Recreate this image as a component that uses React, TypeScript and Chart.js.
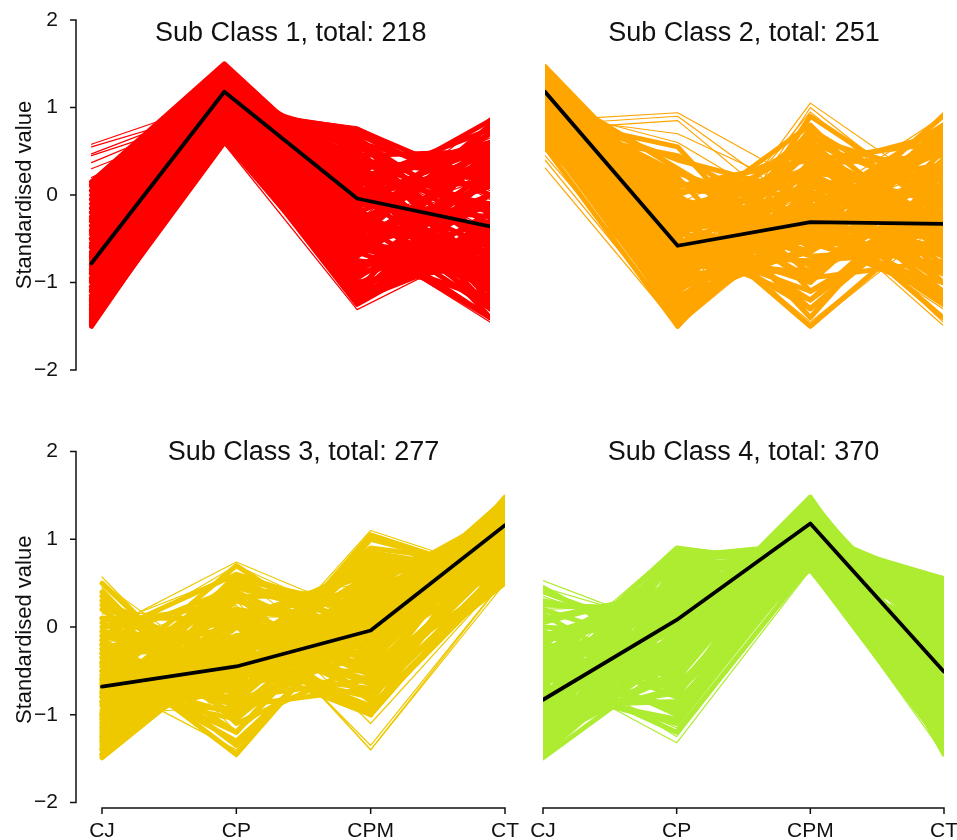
import { useEffect, useRef } from "react";
import { Chart, registerables } from "chart.js";

Chart.register(...registerables);

// ---------- data ----------
const categories = ["CJ", "CP", "CPM", "CT"];
const yTickValues = [-2, -1, 0, 1, 2];
const yTickLabels = ["\u22122", "\u22121", "0", "1", "2"];
const yAxisTitle = "Standardised value";

const class1Title = "Sub Class 1, total: 218";
const class1Mean = [-0.78, 1.18, -0.04, -0.36];
const class1Core = [
  [0.15, 1.5, 0.1, 0.6], [0.1, 1.45, 0.0, 0.85], [0.05, 1.42, -0.2, 0.4], [0.0, 1.4, 0.2, -0.1],
  [-0.05, 1.3, 0.4, 0.2], [-0.1, 1.35, -0.4, 0.7], [-0.2, 1.32, 0.1, -0.6], [-0.25, 1.15, 0.55, -0.2],
  [-0.3, 1.28, -0.1, 0.3], [-0.35, 1.25, -0.6, -1.0], [-0.4, 1.02, 0.7, 0.0], [-0.45, 1.2, 0.05, -0.8],
  [-0.5, 1.2, -0.3, 0.5], [-0.55, 1.18, 0.4, -1.2], [-0.6, 1.15, -0.8, -0.3], [-0.65, 0.98, 0.75, 0.1],
  [-0.7, 1.1, -0.5, 0.8], [-0.75, 1.08, 0.25, -1.4], [-0.8, 1.05, -1.0, -0.7], [-0.85, 1.02, 0.6, -0.5],
  [-0.9, 1.0, -0.2, -1.1], [-0.95, 0.98, 0.7, 0.0], [-1.0, 0.95, -0.7, 0.6], [-1.05, 0.92, 0.1, -0.9],
  [-1.1, 0.9, -1.1, -0.2], [-1.15, 0.88, 0.35, -1.3], [-1.2, 0.85, -0.45, 0.1], [-1.25, 0.82, -0.5, -1.4],
  [-1.3, 0.8, 0.5, -0.6], [-1.35, 0.78, -0.6, 0.4], [-1.4, 0.75, -1.2, -0.6], [-1.45, 0.72, -0.25, -1.0],
  [-1.5, 0.7, -1.25, -0.4], [-1.48, 0.68, -0.4, -1.4], [-0.5, 1.48, -0.05, -0.4], [-1.1, 1.4, 0.15, 0.75],
  [0.12, 1.38, -0.3, -0.7], [-0.15, 1.22, 0.3, 0.45], [-0.28, 1.05, -0.85, 0.2], [-0.42, 1.35, -0.15, -1.25],
  [-0.58, 0.92, 0.45, 0.5], [-0.68, 1.28, -1.05, -0.45], [-0.78, 1.12, 0.0, 0.35], [-0.88, 0.86, -0.75, -1.15],
  [-0.98, 1.18, 0.5, -0.9], [-1.08, 0.8, -0.35, 0.55], [-1.18, 0.95, -0.95, 0.0], [-1.28, 0.74, 0.2, -1.0],
  [-1.38, 0.88, -0.1, -0.25], [-1.44, 0.76, -0.7, 0.25], [-1.22, 1.1, 0.6, 0.2], [-0.95, 1.3, -0.55, 0.45],
  [-0.6, 1.4, -0.2, -0.9], [-0.2, 1.1, 0.65, -0.35], [0.05, 1.28, 0.3, -0.85], [-0.35, 0.98, -1.2, -0.5],
  [-0.72, 0.9, -0.15, 0.7], [-1.05, 1.05, 0.3, -0.2], [-1.32, 0.72, -0.9, -0.55], [-0.5, 1.36, 0.05, 0.15],
  [-0.15, 1.45, -0.6, -0.1], [-0.82, 1.22, -0.4, -0.1], [-1.48, 0.66, -0.05, 0.55], [-0.4, 1.15, 0.2, 0.6],
  [-1.42, 0.62, -1.15, -0.35], [-1.25, 0.7, -1.0, -0.8], [-1.1, 0.78, -0.85, -0.1], [-0.95, 0.84, -0.65, -1.2],
  [-0.8, 0.9, -1.2, -0.3], [-0.65, 0.95, -0.55, -0.75], [-0.5, 1.0, -0.9, 0.3], [-1.35, 0.66, -0.75, -0.9],
  [-1.15, 0.74, -0.3, -1.3], [-0.9, 0.82, -1.1, 0.55], [-1.46, 0.6, -0.6, 0.0], [-0.7, 1.06, -0.25, -0.65],
  [-0.3, 1.2, -0.65, 0.15], [-1.2, 0.92, 0.0, -1.0], [-0.85, 0.76, -0.5, -1.05], [-1.05, 0.7, -1.15, 0.2],
  [-0.25, 1.35, 0.25, -1.1], [-0.05, 1.25, -0.8, -0.5], [-1.3, 0.86, 0.4, -0.15], [-0.6, 1.08, 0.65, -0.95],
];
const class1Fringe = [
  [0.58, 1.1, 0.2, -0.3], [0.55, 1.0, -0.1, 0.5], [0.47, 1.05, 0.4, -0.4], [0.45, 0.95, 0.6, -0.8],
  [0.37, 1.0, -0.3, 0.2], [0.3, 0.9, 0.05, 0.65], [0.2, 0.95, -0.6, -0.5], [-1.45, 0.58, -1.31, -0.55],
  [-1.3, 0.62, -1.2, -0.3], [-1.2, 0.65, -1.1, -0.7], [-0.9, 0.7, -0.95, -0.1], [-0.2, 0.98, 0.78, 0.05],
  [-0.6, 1.0, 0.76, -0.05], [-0.4, 1.1, -0.3, 0.88], [-0.7, 1.2, 0.0, 0.86], [0.0, 1.25, -0.5, -1.45],
  [-1.0, 0.85, -0.45, -1.42], [-0.3, 1.15, -1.0, -0.2],
];

const class2Title = "Sub Class 2, total: 251";
const class2Mean = [1.18, -0.58, -0.31, -0.33];
const class2Core = [
  [1.47, -0.1, -0.5, 0.2], [1.42, -0.3, 0.2, -0.6], [1.4, -0.6, -0.2, 0.5], [1.38, -0.9, 0.5, -0.3],
  [1.35, -0.2, -0.8, 0.0], [1.32, -1.2, 0.0, -1.0], [1.3, 0.0, -1.0, 0.4], [1.28, -0.5, 0.7, -0.5],
  [1.25, -1.4, -0.3, 0.7], [1.22, 0.3, -0.6, -0.2], [1.2, -0.8, -0.9, 0.1], [1.18, -0.4, 0.3, -1.2],
  [1.15, -1.0, -0.5, -0.8], [1.12, 0.1, 0.4, 0.6], [1.1, -1.5, 0.1, -0.4], [1.08, -0.7, -0.9, -0.1],
  [1.05, 0.2, -1.4, 0.3], [1.02, -1.1, 0.6, 0.0], [1.0, -0.6, -0.4, 0.9], [0.98, 0.4, 0.0, -0.9],
  [0.95, -1.3, -0.4, 0.2], [0.92, -0.3, 0.8, -0.7], [0.9, -0.9, -0.1, -1.4], [0.88, 0.55, -1.1, -0.3],
  [0.85, -1.45, -0.2, 0.55], [0.82, -0.2, -1.5, -0.2], [0.8, 0.0, 0.5, -1.0], [0.75, -1.2, -0.6, 0.8],
  [0.72, -0.2, 0.25, -0.5], [0.7, -0.8, -0.3, -1.2], [0.65, -1.4, 0.9, -0.1], [0.6, 0.3, -0.9, 0.4],
  [0.58, 0.0, -1.3, 0.0], [0.55, -1.5, 0.4, -0.8], [1.45, -0.75, -0.4, -0.45], [1.0, -0.4, -0.2, -0.3],
  [1.44, -0.45, 0.1, 0.35], [1.36, -1.05, -0.65, 0.25], [1.3, -0.25, 0.55, -0.9], [1.24, -0.85, -0.15, -0.7],
  [1.16, -1.25, 0.35, 0.45], [1.1, -0.15, -0.7, -0.6], [1.04, -0.55, 0.05, -1.1], [0.98, 0.15, -0.3, 0.65],
  [0.93, -1.35, -0.05, -0.2], [0.87, -0.6, -1.2, 0.15], [0.78, 0.1, 0.2, -0.5], [0.68, -1.0, 0.3, 0.7],
  [0.62, -0.35, -0.8, -0.4], [0.57, -0.9, 0.0, 0.3], [1.4, -0.05, -0.35, -0.85], [1.2, -1.1, 0.75, -0.15],
  [1.06, -0.25, -1.2, -0.1], [0.96, -0.75, 0.15, -0.55], [0.83, -1.2, -0.45, 0.0], [0.74, 0.45, -0.4, 0.25],
  [1.32, -0.65, -0.95, 0.5], [1.12, -0.35, 0.45, -0.35], [0.9, -1.48, 0.25, 0.1], [0.66, -0.45, -0.55, -1.0],
  [1.28, 0.05, 0.0, -0.25], [1.02, -0.95, -0.2, 0.35], [0.8, -0.15, -0.65, 0.75], [1.38, -1.3, -0.3, -0.6],
  [1.26, -1.15, -0.6, -0.3], [1.14, -0.9, -0.85, 0.05], [1.0, -0.55, -1.1, -0.2], [0.86, -1.25, -0.35, -0.9],
  [0.72, -0.7, -0.75, -0.65], [1.34, -0.4, -1.3, -0.05], [1.18, -1.45, 0.05, -1.0], [0.94, -0.1, -0.95, -0.75],
  [0.6, -1.1, -0.2, -1.15], [1.42, -0.85, -0.5, -1.15], [0.8, -0.35, 0.0, 0.55], [1.08, -1.35, -0.4, 0.6],
  [0.9, -0.65, 0.35, -0.45], [1.22, -0.2, -0.15, 0.8], [0.65, -0.95, -0.65, 0.6], [1.3, -0.75, 0.65, 0.2],
  [1.02, 0.25, -0.25, -1.25], [0.76, -1.4, 0.6, -0.6], [1.12, -0.5, -1.0, 0.35], [1.46, -0.15, 0.3, -0.1],
];
const class2Fringe = [
  [0.31, -1.5, -0.25, 0.3], [0.4, -1.45, 0.0, -0.5], [0.45, -1.3, 1.0, -0.2], [0.85, 0.94, 0.1, -0.6],
  [0.8, 0.9, -0.2, 0.2], [0.75, 0.85, -0.4, -1.0], [0.9, 0.7, 0.0, 0.5], [1.0, 0.6, -0.3, -1.3],
  [1.2, -1.0, 1.05, 0.0], [1.1, -0.9, 0.95, -0.3], [1.3, 0.0, -1.51, -0.3], [0.7, -0.2, -1.45, -0.25],
  [1.05, -0.7, -0.6, 0.94], [0.95, -1.2, -0.1, 0.9], [1.25, -0.4, -0.15, -1.49], [0.6, -0.6, 0.0, -1.45],
  [1.15, -1.5, -0.2, -0.6], [0.5, -0.1, 0.6, 0.1],
];

const class3Title = "Sub Class 3, total: 277";
const class3Mean = [-0.68, -0.45, -0.04, 1.16];
const class3Core = [
  [0.2, -0.9, 0.1, 1.45], [0.1, -0.3, -0.6, 1.3], [0.0, 0.3, -0.2, 1.0], [-0.1, 0.6, 0.1, 0.8],
  [-0.2, -1.2, 0.5, 1.2], [-0.3, 0.0, -1.0, 1.4], [-0.4, -0.6, 0.8, 0.6], [-0.5, 0.4, -0.4, 1.1],
  [-0.55, -1.0, -0.1, 0.9], [-0.6, -0.2, 0.3, 1.35], [-0.65, 0.2, -0.8, 0.7], [-0.7, -0.8, 1.0, 0.6],
  [-0.75, -0.4, -0.3, 1.48], [-0.8, 0.5, 0.0, 1.2], [-0.45, -1.3, 0.1, 1.0], [-0.9, 0.1, 0.6, 0.75],
  [-0.95, -0.4, -1.0, 1.3], [-1.0, -0.1, 0.2, 1.4], [-1.05, -0.5, -0.7, 0.8], [-1.1, 0.3, -0.1, 1.15],
  [-1.15, -0.6, 0.4, 1.05], [-1.2, -0.3, -0.9, 0.6], [-1.25, 0.0, 0.7, 0.65], [-1.3, -0.4, -0.2, 1.3],
  [-1.4, 0.2, 0.0, 0.95], [-1.45, -0.25, -0.6, 1.25], [-1.49, -0.25, 0.3, 1.1],
  [0.4, -1.1, -0.4, 1.2], [0.5, -0.95, 0.0, 0.7], [-0.3, -1.45, 0.3, 1.0], [-0.2, -1.35, 0.2, 1.35],
  [-0.6, 0.7, -0.3, 0.9], [-0.4, -0.9, -0.7, 0.5], [-0.8, -0.7, 1.05, 0.55], [-0.1, -0.5, -0.5, 1.1],
  [0.05, -0.7, -0.25, 1.15], [-0.15, 0.45, 0.25, 0.95], [-0.25, -0.85, 0.45, 1.3], [-0.35, 0.1, -0.55, 0.8],
  [-0.5, -0.35, 0.6, 1.0], [-0.62, 0.55, -0.15, 1.25], [-0.72, -1.05, 0.2, 0.85], [-0.85, -0.15, -0.45, 1.45],
  [-0.98, 0.35, 0.35, 0.7], [-1.08, -0.65, -0.35, 1.2], [-1.18, -0.4, 0.9, 0.7], [-1.28, -0.1, -0.75, 0.95],
  [-1.38, 0.4, -0.3, 1.35], [-1.46, -0.2, 0.05, 0.85], [0.3, -0.45, 0.1, 1.4], [-0.05, -0.2, -0.95, 0.6],
  [-0.42, 0.3, 0.0, 1.05], [-0.58, -0.55, 0.5, 0.75], [-0.78, 0.05, -0.65, 1.3], [-0.5, -1.2, 0.4, 1.15],
  [-1.12, -0.55, 0.15, 0.6], [-1.22, 0.55, 0.2, 1.0], [-0.3, -0.25, -1.0, 0.75], [-0.68, 0.0, 0.65, 1.05],
  [-1.02, 0.15, -0.5, 0.55], [0.25, -0.6, 0.05, 0.9], [-0.88, -0.3, 0.1, 1.38], [-1.32, -0.45, 0.45, 0.8],
  [-0.05, -0.45, -0.8, 0.65], [-0.25, 0.2, -0.4, 1.15], [-0.45, -0.75, 0.3, 0.9], [-0.65, -0.25, 0.75, 0.65],
  [-0.85, 0.35, -0.85, 1.2], [-1.05, -0.7, 0.1, 1.45], [-1.25, -0.15, -0.3, 0.75], [-1.45, -0.3, 0.55, 1.0],
  [0.35, -0.8, -0.6, 1.25], [-0.15, -1.0, 0.0, 1.1], [-0.75, 0.45, 0.05, 0.6], [-0.8, -0.95, 0.35, 1.3],
  [-1.15, 0.0, -0.45, 1.45], [-1.35, -0.4, 0.2, 0.6], [-0.55, -0.1, -0.65, 0.95], [0.1, 0.1, 0.45, 0.85],
  [-0.35, -0.6, -0.1, 1.4], [-1.0, 0.6, 0.1, 0.8], [-0.2, -0.35, 0.85, 0.6], [-1.4, -0.1, -0.15, 1.2],
];
const class3Fringe = [
  [0.57, -1.0, -0.2, 1.2], [0.5, -0.6, 0.3, 0.9], [0.45, -1.2, 0.0, 1.0], [0.15, 0.17, 0.3, 1.3],
  [-0.05, 0.74, 0.1, 1.4], [-0.2, 0.7, 0.0, 0.85], [-0.3, -1.48, 0.3, 0.8], [-1.49, -0.28, 0.1, 0.6],
  [-0.55, -0.6, 1.1, 0.6], [-0.2, 0.3, -1.4, 0.5], [-0.7, 0.2, -1.35, 0.55], [0.0, 0.6, -0.6, 1.48],
  [-1.0, -0.9, 0.9, 0.65], [-0.9, 0.4, -1.1, 0.58], [-1.4, 0.1, 0.15, 1.45], [-0.6, -1.4, 0.3, 1.4],
  [0.3, -0.8, 0.4, 0.7], [-0.5, 0.3, 0.5, 0.8], [-1.35, 0.25, -1.4, 0.55],
];

const class4Title = "Sub Class 4, total: 370";
const class4Mean = [-0.83, 0.08, 1.18, -0.51];
const class4Core = [
  [0.0, -0.1, 1.45, -0.4], [-0.1, 0.4, 0.8, 0.5], [-0.2, -0.4, 1.3, -1.2], [-0.3, 0.7, 0.75, 0.2],
  [-0.4, 0.1, 1.1, -0.8], [-0.45, -0.7, 0.9, 0.4], [-0.5, 0.9, 0.7, -0.3], [-0.55, 0.3, 1.0, -1.4],
  [-0.6, -0.2, 1.4, -0.2], [-0.65, 0.6, 0.85, -0.6], [-0.7, -0.5, 1.2, 0.2], [-0.75, 0.2, 0.65, -1.0],
  [-0.8, 0.8, 0.95, 0.55], [-0.85, -0.3, 1.25, -0.9], [-0.9, 0.5, 1.05, 0.0], [-0.95, 0.0, 0.7, -0.2],
  [-1.0, -0.6, 1.35, -0.6], [-1.05, 0.35, 0.9, 0.35], [-1.1, -0.1, 1.15, -1.3], [-1.15, 0.65, 0.8, -0.5],
  [-1.2, -0.35, 1.0, 0.1], [-1.25, -0.05, 1.48, -0.7], [-1.3, -0.25, 0.75, -1.1], [-1.35, 0.45, 1.1, 0.45],
  [-1.4, -0.2, 0.85, -0.35], [-1.45, -0.05, 1.3, -1.45], [-1.49, -0.38, 1.2, -0.5], [0.3, 0.0, 1.05, -0.1],
  [0.2, -0.3, 0.95, -0.7], [0.45, -0.4, 1.15, 0.1], [-0.3, -1.0, 0.9, -1.0], [-0.5, -1.2, 0.7, 0.3],
  [-0.2, -0.8, 1.4, -0.9], [-0.1, 0.2, 0.65, -1.2], [-0.7, 0.85, 0.72, -0.1], [-0.4, -0.5, 1.0, 0.55],
  [0.1, 0.4, 0.7, -0.5], [-0.05, -0.6, 1.2, 0.15], [-0.15, 0.15, 0.95, -1.1], [-0.25, -0.2, 0.78, 0.4],
  [-0.35, 0.55, 1.05, -0.45], [-0.48, 0.05, 1.25, -0.15], [-0.58, -0.9, 0.85, -0.75], [-0.68, 0.75, 0.68, 0.1],
  [-0.78, -0.15, 1.1, -1.05], [-0.88, 0.3, 0.75, 0.3], [-0.98, -0.45, 1.4, -0.3], [-1.08, 0.6, 0.95, -0.85],
  [-1.0, -0.75, 0.8, 0.0], [-1.28, 0.25, 1.2, -1.15], [-1.38, -0.3, 0.7, 0.5], [-1.46, 0.1, 1.05, -0.8],
  [0.4, -0.15, 0.88, 0.25], [-0.15, 0.35, 1.1, 0.35], [-0.62, -0.4, 0.66, -1.35], [-0.92, 0.75, 0.9, -0.05],
  [-1.22, -0.55, 1.32, -0.25], [-0.45, 0.4, 0.72, -0.95], [-0.75, -1.05, 0.78, -0.4], [-1.35, 0.7, 0.82, 0.15],
  [0.25, 0.2, 1.22, -0.6], [-0.3, -0.25, 0.92, 0.5], [-1.12, 0.1, 1.38, -0.95], [-0.55, 0.45, 1.15, 0.2],
  [-1.3, -0.5, 0.9, -0.6], [-1.1, -0.7, 1.05, 0.3], [-0.9, -0.85, 0.7, -1.25], [-0.7, -1.1, 0.8, 0.05],
  [-0.5, -0.95, 1.2, -0.5], [-0.3, -0.65, 0.66, -0.15], [-0.1, -0.45, 1.0, -1.35], [0.15, -0.75, 0.75, 0.45],
  [-1.45, -0.15, 0.95, 0.0], [-1.2, 0.05, 0.7, -0.3], [-0.95, 0.2, 1.3, -0.75], [-0.6, 0.55, 0.95, 0.4],
  [-0.2, 0.65, 0.8, -0.65], [0.05, 0.45, 0.9, -0.3], [-0.8, -0.25, 1.1, -1.2], [-1.4, 0.3, 0.68, 0.3],
  [-0.35, 0.25, 0.7, -0.85], [-1.0, 0.8, 0.85, -0.9], [-0.55, -0.05, 1.28, 0.05], [-1.25, 0.5, 1.0, 0.25],
];
const class4Fringe = [
  [0.53, -0.05, 1.0, 0.0], [0.45, 0.0, 0.8, -0.8], [0.35, -0.2, 1.2, 0.3], [-0.4, 0.91, 0.75, -0.2],
  [-0.6, 0.88, 0.8, 0.2], [-0.5, -1.32, 0.65, -0.5], [-0.3, -1.25, 0.7, 0.1], [-0.45, -1.15, 0.8, -0.3],
  [-1.49, -0.35, 0.63, -1.4], [-0.2, -0.1, 1.48, -0.35], [-1.0, 0.4, 1.0, 0.57], [-0.8, 0.2, 0.9, 0.5],
  [0.1, 0.3, 0.68, -1.45], [-1.2, 0.6, 0.66, -1.3], [-0.7, -0.9, 1.3, -0.4], [0.2, 0.25, 0.85, 0.4],
];

// ---------- layout / style ----------
type Panel = {
  left: number; top: number; width: number; height: number;
  cjX: number; ctX: number; y2: number; yM2: number;
  axisX?: number; xAxisY?: number; titleBaseline: number;
  color: string; title: string; mean: number[]; core: number[][]; fringe: number[][];
};

const FONT = "'Liberation Sans', Arial, Helvetica, sans-serif";
const INK = "#111111";
const CORE_WIDTH = 5;
const FRINGE_WIDTH = 1.2;

const panels: Panel[] = [
  { left: 0, top: 0, width: 500, height: 400, cjX: 91.5, ctX: 490, y2: 20, yM2: 370, axisX: 76,
    titleBaseline: 41, color: "#ff0000", title: class1Title, mean: class1Mean, core: class1Core, fringe: class1Fringe },
  { left: 520, top: 0, width: 437, height: 400, cjX: 545, ctX: 943, y2: 20, yM2: 370,
    titleBaseline: 41, color: "#ffa500", title: class2Title, mean: class2Mean, core: class2Core, fringe: class2Fringe },
  { left: 0, top: 420, width: 530, height: 420, cjX: 102, ctX: 505, y2: 451.5, yM2: 802.5, axisX: 76, xAxisY: 808,
    titleBaseline: 460, color: "#eec900", title: class3Title, mean: class3Mean, core: class3Core, fringe: class3Fringe },
  { left: 500, top: 420, width: 457, height: 420, cjX: 543, ctX: 944, y2: 451.5, yM2: 802.5, xAxisY: 808,
    titleBaseline: 460, color: "#adec30", title: class4Title, mean: class4Mean, core: class4Core, fringe: class4Fringe },
];

function makeAxesPlugin(p: Panel) {
  return {
    id: "rStyleAxes",
    afterDraw(chart: any) {
      const { ctx, chartArea } = chart;
      const xs = chart.scales.x;
      const ys = chart.scales.y;
      ctx.save();
      ctx.strokeStyle = INK;
      ctx.lineWidth = 1.5;
      ctx.lineCap = "butt";
      if (p.axisX != null) {
        const x = chartArea.left;
        ctx.beginPath();
        ctx.moveTo(x, ys.getPixelForValue(yTickValues[0]));
        ctx.lineTo(x, ys.getPixelForValue(yTickValues[yTickValues.length - 1]));
        yTickValues.forEach((v) => {
          const py = ys.getPixelForValue(v);
          ctx.moveTo(x + 0.75, py);
          ctx.lineTo(x - 6, py);
        });
        ctx.stroke();
      }
      if (p.xAxisY != null) {
        const y = chartArea.bottom;
        ctx.beginPath();
        ctx.moveTo(xs.getPixelForValue(0), y);
        ctx.lineTo(xs.getPixelForValue(categories.length - 1), y);
        categories.forEach((_, i) => {
          const px = xs.getPixelForValue(i);
          ctx.moveTo(px, y - 0.75);
          ctx.lineTo(px, y + 6);
        });
        ctx.stroke();
      }
      ctx.fillStyle = INK;
      ctx.font = `27px ${FONT}`;
      ctx.textAlign = "center";
      ctx.textBaseline = "alphabetic";
      const cx = (xs.getPixelForValue(0) + xs.getPixelForValue(categories.length - 1)) / 2;
      ctx.fillText(p.title, cx, p.titleBaseline - p.top);
      ctx.restore();
    },
  };
}

function buildConfig(p: Panel): any {
  const spacing = (p.ctX - p.cjX) / (categories.length - 1);
  const plotLeft = p.axisX ?? p.cjX;
  const xMin = -(p.cjX - plotLeft) / spacing;
  const unit = (p.yM2 - p.y2) / 4;
  const bottomPx = p.xAxisY ?? p.yM2;
  const yMin = -2 - (bottomPx - p.yM2) / unit;
  const toPts = (vals: number[]) => vals.map((y, i) => ({ x: i, y }));
  const common = { pointRadius: 0, borderJoinStyle: "round", borderCapStyle: "round", tension: 0, fill: false };
  const datasets = [
    { ...common, data: toPts(p.mean), borderColor: "#000000", borderWidth: 3.8 },
    ...p.core.map((v) => ({ ...common, data: toPts(v), borderColor: p.color, borderWidth: CORE_WIDTH })),
    ...p.fringe.map((v) => ({ ...common, data: toPts(v), borderColor: p.color, borderWidth: FRINGE_WIDTH })),
  ];
  const showX = p.xAxisY != null;
  const showY = p.axisX != null;
  return {
    type: "line",
    data: { datasets },
    plugins: [makeAxesPlugin(p)],
    options: {
      responsive: false,
      animation: false,
      events: [],
      layout: {
        padding: {
          left: showY ? 0 : p.cjX - p.left,
          right: p.left + p.width - p.ctX,
          top: p.y2 - p.top,
          bottom: showX ? 0 : p.top + p.height - bottomPx,
        },
      },
      plugins: { legend: { display: false }, tooltip: { enabled: false }, title: { display: false } },
      scales: {
        x: {
          type: "linear",
          min: xMin,
          max: categories.length - 1,
          display: showX,
          grid: { display: false },
          border: { display: false },
          ticks: {
            padding: 3,
            autoSkip: false,
            maxRotation: 0,
            color: INK,
            font: { size: 21, family: FONT },
            callback: (v: number) => categories[v] ?? "",
          },
          afterBuildTicks: (s: any) => {
            s.ticks = categories.map((_, i) => ({ value: i }));
          },
          afterFit: (s: any) => {
            if (showX) s.height = p.top + p.height - bottomPx;
            s.paddingLeft = 0;
            s.paddingRight = 0;
          },
        },
        y: {
          type: "linear",
          min: yMin,
          max: 2,
          display: showY,
          grid: { display: false },
          border: { display: false },
          ticks: {
            padding: 10,
            color: INK,
            font: { size: 21, family: FONT },
            callback: (v: number) => yTickLabels[yTickValues.indexOf(v)] ?? "",
          },
          afterBuildTicks: (s: any) => {
            s.ticks = yTickValues.map((v) => ({ value: v }));
          },
          title: {
            display: true,
            text: yAxisTitle,
            color: INK,
            font: { size: 22, family: FONT },
            padding: { top: 12, bottom: 0 },
          },
          afterFit: (s: any) => {
            if (showY) s.width = (p.axisX as number) - p.left;
            s.paddingTop = 0;
            s.paddingBottom = 0;
          },
        },
      },
    },
  };
}

function PanelChart({ panel }: { panel: Panel }) {
  const ref = useRef<HTMLCanvasElement | null>(null);
  useEffect(() => {
    if (!ref.current) return;
    const chart = new Chart(ref.current, buildConfig(panel));
    return () => chart.destroy();
  }, [panel]);
  return (
    <canvas
      ref={ref}
      width={panel.width}
      height={panel.height}
      style={{ position: "absolute", left: panel.left, top: panel.top, width: panel.width, height: panel.height }}
    />
  );
}

export default function App() {
  return (
    <div style={{ position: "absolute", left: 0, top: 0, width: 957, height: 840, background: "#ffffff", overflow: "hidden" }}>
      {panels.map((p, i) => (
        <PanelChart key={i} panel={p} />
      ))}
    </div>
  );
}
